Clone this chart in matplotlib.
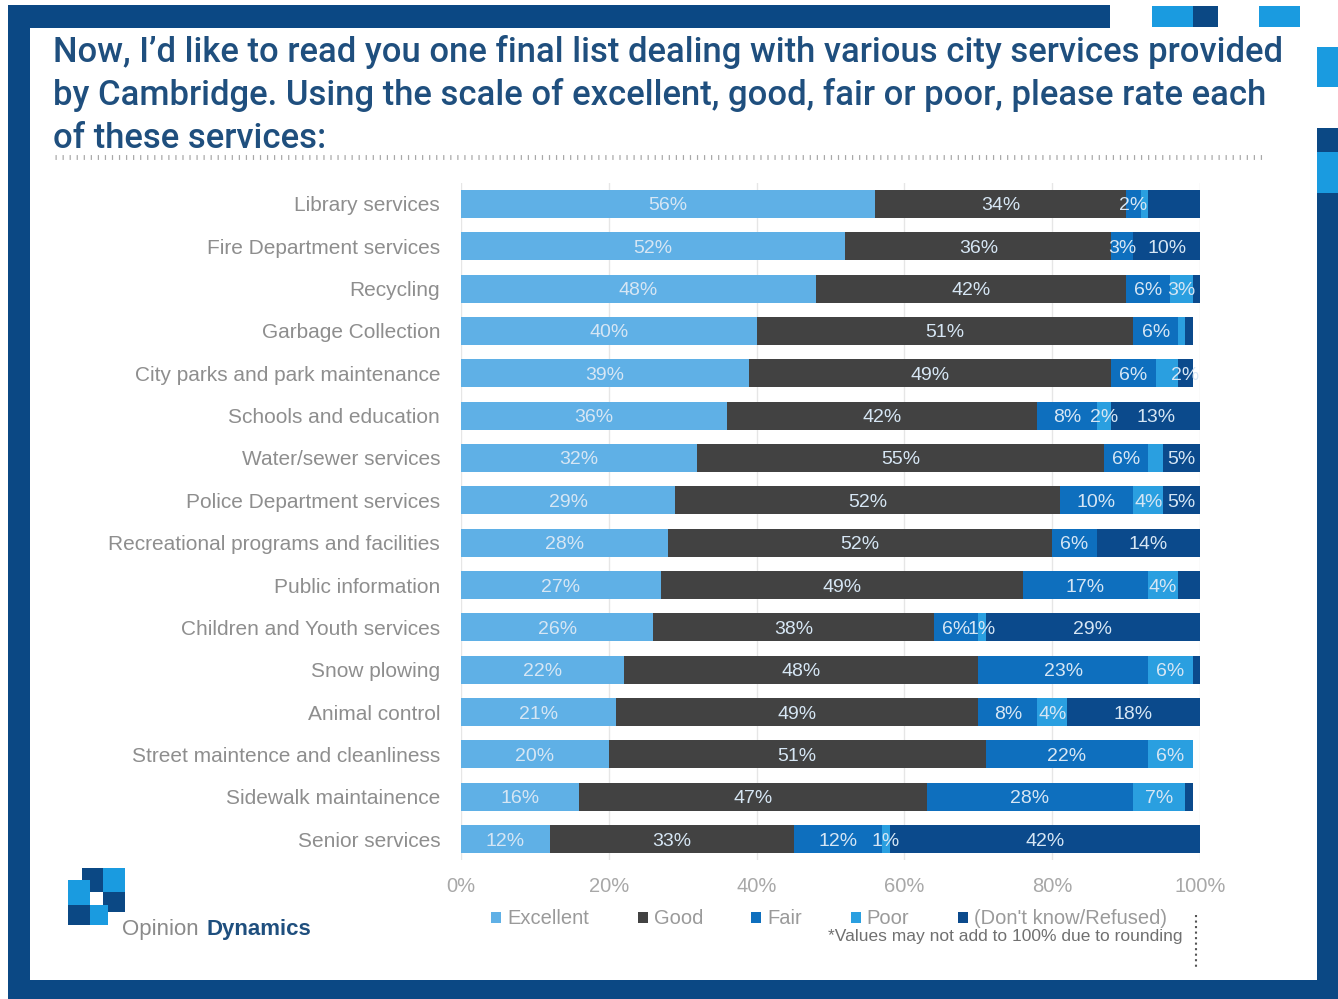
import numpy as np
import matplotlib
matplotlib.use("Agg")
import matplotlib.pyplot as plt
from matplotlib.patches import Rectangle, Patch
from matplotlib.lines import Line2D

# ============================================================
# Data
# ============================================================

services = [
    "Library services",
    "Fire Department services",
    "Recycling",
    "Garbage Collection",
    "City parks and park maintenance",
    "Schools and education",
    "Water/sewer services",
    "Police Department services",
    "Recreational programs and facilities",
    "Public information",
    "Children and Youth services",
    "Snow plowing",
    "Animal control",
    "Street maintence and cleanliness",
    "Sidewalk maintainence",
    "Senior services",
]

excellent = [56, 52, 48, 40, 39, 36, 32, 29, 28, 27, 26, 22, 21, 20, 16, 12]
good = [34, 36, 42, 51, 49, 42, 55, 52, 52, 49, 38, 48, 49, 51, 47, 33]
fair = [2, 3, 6, 6, 6, 8, 6, 10, 6, 17, 6, 23, 8, 22, 28, 12]
poor = [1, 0, 3, 1, 3, 2, 2, 4, 0, 4, 1, 6, 4, 6, 7, 1]
dont_know = [7, 10, 1, 1, 2, 13, 5, 5, 14, 3, 29, 1, 18, 0, 1, 42]

series_names = ["Excellent", "Good", "Fair", "Poor", "(Don't know/Refused)"]
x_ticks = [0, 20, 40, 60, 80, 100]

# segments that carry no label in the original slide
hidden_labels = {
    ("Poor", 0), ("Poor", 3), ("Poor", 4), ("Poor", 6),
    ("(Don't know/Refused)", 0), ("(Don't know/Refused)", 2),
    ("(Don't know/Refused)", 3), ("(Don't know/Refused)", 9),
    ("(Don't know/Refused)", 11), ("(Don't know/Refused)", 14),
}

title_lines = [
    "Now, I\u2019d like to read you one final list dealing with various city services provided",
    "by Cambridge. Using the scale of excellent, good, fair or poor, please rate each",
    "of these services:",
]

# ============================================================
# Style
# ============================================================

NAVY = "#0b4884"
SKY = "#1a9be0"
COLORS = ["#5fb0e6", "#424242", "#0e6fbe", "#2a9fe0", "#0b4a8c"]
W, H = 1338, 999

plt.rcParams["font.family"] = ["Liberation Sans", "DejaVu Sans"]

fig = plt.figure(figsize=(W / 100, H / 100), dpi=100)
fig.patch.set_facecolor("white")


def px_rect(x0, y0, x1, y1, color):
    # pixel box (top-left origin) -> figure fraction rectangle
    fig.add_artist(Rectangle((x0 / W, 1 - y1 / H), (x1 - x0) / W, (y1 - y0) / H,
                             transform=fig.transFigure, facecolor=color,
                             edgecolor="none", zorder=0))


# ============================================================
# Slide frame
# ============================================================

px_rect(8, 5, 30, 999, NAVY)
px_rect(8, 5, 1110, 28, NAVY)
px_rect(1152, 6, 1193, 27, SKY)
px_rect(1193, 6, 1218, 27, NAVY)
px_rect(1259, 6, 1300, 27, SKY)
px_rect(1317, 47, 1338, 87, SKY)
px_rect(1317, 128, 1338, 152, NAVY)
px_rect(1317, 152, 1338, 193, SKY)
px_rect(1317, 193, 1338, 999, NAVY)
px_rect(8, 980, 1338, 999, NAVY)

# title: shrink the font until the first line spans the same width as the slide
title_texts = []
for i, line in enumerate(title_lines):
    t = fig.text(53 / W, 1 - (62 + 43 * i) / H, line, ha="left", va="baseline",
                 fontsize=25, fontweight="medium", color="#1f4f7e",
                 family=["Roboto", "Liberation Sans"])
    title_texts.append(t)

renderer = fig.canvas.get_renderer()
width_now = title_texts[0].get_window_extent(renderer).width
scale = (1285 - 53) / width_now
for t in title_texts:
    t.set_fontsize(25 * scale)

fig.add_artist(Line2D([55 / W, 1265 / W], [1 - 157 / H, 1 - 157 / H],
                      transform=fig.transFigure, color="#a8a8a8",
                      linewidth=3.5, dashes=(0.25, 1.2)))

# ============================================================
# Bars
# ============================================================

ax = fig.add_axes([461 / W, 1 - 860.2 / H, 739 / W, 677.4 / H])
y = np.arange(len(services))
left = np.zeros(len(services))

for name, vals, color in zip(series_names,
                             [excellent, good, fair, poor, dont_know], COLORS):
    vals = np.array(vals, dtype=float)
    ax.barh(y, vals, left=left, height=0.66, color=color, label=name,
            edgecolor="none", zorder=2)
    for i, v in enumerate(vals):
        if v <= 0 or (name, i) in hidden_labels:
            continue
        cx = (left[i] + min(left[i] + v, 100)) / 2
        ax.text(cx, y[i], f"{int(v)}%", ha="center", va="center_baseline",
                fontsize=14, color="#d6e6f4", zorder=3)
    left += vals

ax.set_xlim(0, 100)
ax.set_ylim(len(services) - 0.5, -0.5)
ax.set_yticks(y)
ax.set_yticklabels(services, fontsize=15, color="#8e8e8e")
ax.set_xticks(x_ticks)
ax.set_xticklabels([f"{t}%" for t in x_ticks], fontsize=14.5, color="#a8a8a8")
ax.tick_params(axis="y", length=0, pad=15)
ax.tick_params(axis="x", length=0, pad=12)
for s in ax.spines.values():
    s.set_visible(False)
ax.grid(axis="x", color="#e6e6e6", linewidth=1, zorder=0)
ax.set_axisbelow(True)

# ============================================================
# Legend / footer
# ============================================================

handles = [Patch(facecolor=c, edgecolor="none") for c in COLORS]
fig.legend(handles, series_names, loc="center", ncol=5,
           bbox_to_anchor=(829 / W, 1 - 919 / H), frameon=False,
           fontsize=14.5, labelcolor="#9a9a9a", handlelength=0.5,
           handleheight=0.5, handletextpad=0.3, columnspacing=2.4)

fig.text(1182 / W, 1 - 937 / H, "*Values may not add to 100% due to rounding",
         ha="right", va="center", fontsize=12.5, color="#707070")

fig.add_artist(Line2D([1196 / W, 1196 / W], [1 - 915 / H, 1 - 970 / H],
                      transform=fig.transFigure, color="#555555",
                      linewidth=1.5, linestyle=":"))

# logo
px_rect(82, 868, 103, 892, NAVY)
px_rect(103, 868, 125, 892, SKY)
px_rect(68, 880, 90, 905, SKY)
px_rect(103, 892, 125, 912, NAVY)
px_rect(68, 905, 90, 925, NAVY)
px_rect(90, 905, 108, 925, SKY)

fig.text(122 / W, 1 - 929 / H, "Opinion", ha="left", va="center",
         fontsize=16, color="#8a8a8a")
fig.text(207 / W, 1 - 929 / H, "Dynamics", ha="left", va="center",
         fontsize=16, fontweight="bold", color="#1f4f7e")

fig.savefig("out.png", dpi=100)
